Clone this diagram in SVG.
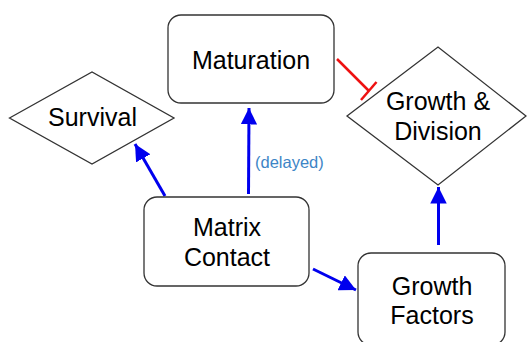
<svg xmlns="http://www.w3.org/2000/svg" width="527" height="342" viewBox="0 0 527 342">
<style>
.box{fill:#fff;stroke:#333;stroke-width:1.3}
.t{font-family:"Liberation Sans",Arial,sans-serif;font-size:25px;fill:#000;text-anchor:middle}
.lbl{font-family:"Liberation Sans",Arial,sans-serif;font-size:16.5px;fill:#3d85c6}
.act{stroke:#0000ee;stroke-width:3;fill:none}
.inh{stroke:#ee1111;stroke-width:2.5;fill:none}
</style>
<defs>
<marker id="ah" viewBox="0 0 10 10" refX="10" refY="5" markerWidth="5.5" markerHeight="5.5" orient="auto" markerUnits="strokeWidth">
<path d="M0,0 L10,5 L0,10 z" fill="#0000ee"/>
</marker>
</defs>
<rect width="527" height="342" fill="#fff"/>
<g id="connectors">
<line class="act" x1="165" y1="196" x2="135" y2="144" marker-end="url(#ah)"/>
<line class="act" x1="248.5" y1="194" x2="249" y2="108" marker-end="url(#ah)"/>
<line class="act" x1="313" y1="269" x2="356" y2="290" marker-end="url(#ah)"/>
<line class="act" x1="438.5" y1="245" x2="438.5" y2="187" marker-end="url(#ah)"/>
<line class="inh" x1="337" y1="59" x2="369" y2="91"/>
<line class="inh" x1="376.5" y1="82" x2="361" y2="100"/>
<text class="lbl" x="255" y="168">(delayed)</text>
</g>
<g id="maturation">
<rect class="box" x="168" y="15" width="166" height="88" rx="13"/>
<text class="t" x="251" y="69">Maturation</text>
</g>
<g id="survival">
<polygon class="box" points="9.5,118 92,72 174,118 92,164"/>
<text class="t" x="92.5" y="126">Survival</text>
</g>
<g id="growth-division">
<polygon class="box" points="347,116 438,47 526,116 438,185"/>
<text class="t" x="438" y="110">Growth &amp;</text>
<text class="t" x="438" y="140">Division</text>
</g>
<g id="matrix-contact">
<rect class="box" x="144" y="197" width="165" height="89" rx="13"/>
<text class="t" x="227" y="236">Matrix</text>
<text class="t" x="227" y="265.5">Contact</text>
</g>
<g id="growth-factors">
<rect class="box" x="358" y="253" width="147" height="92" rx="13"/>
<text class="t" x="432" y="295">Growth</text>
<text class="t" x="432" y="324">Factors</text>
</g>
</svg>
